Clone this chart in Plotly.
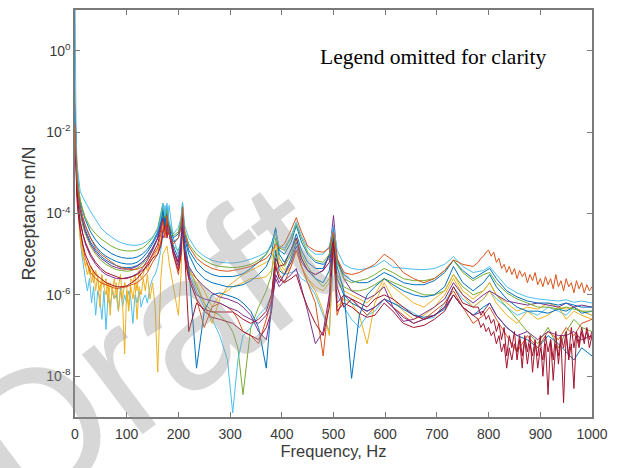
import plotly.graph_objects as go

# Shared frequency grid (Hz)
freq = [0, 2, 4, 7, 10, 15, 20, 30, 40, 50,
        60, 70, 80, 90, 100, 110, 120, 130, 140, 150,
        160, 166, 170, 174, 178, 182, 190, 200, 205, 208,
        212, 220, 235, 250, 265, 280, 295, 305, 315, 325,
        340, 355, 370, 380, 388, 395, 405, 418, 428, 438,
        450, 465, 480, 492, 500, 507, 520, 535, 550, 565,
        580, 598, 615, 635, 655, 675, 695, 715, 732, 750,
        770, 790, 802, 815, 835, 855, 875, 895, 915, 935,
        950, 965, 980, 1000]

# Dense low-frequency grid for noisy heads (Hz)
freq_low = [0, 2, 4, 6, 8, 10, 13, 16, 20, 24,
            28, 32, 36, 40, 44, 48, 52, 56, 60, 64,
            68, 72, 76, 80, 84, 88, 92, 96, 100, 104,
            108, 112, 116, 120, 124, 128, 132, 136, 140, 145,
            150, 155, 160]

# Dense high-frequency grid for the noisy tails (Hz)
freq_tail = [780, 785, 790, 795, 800, 805, 810, 815, 820, 825,
             830, 835, 840, 845, 850, 855, 860, 865, 870, 875,
             880, 885, 890, 895, 900, 905, 910, 915, 920, 925,
             930, 935, 940, 945, 950, 955, 960, 965, 970, 975,
             980, 985, 990, 995, 1000]

# Receptance values, stored as log10(m/N)
lightblue_top = [1.5, -2.0, -2.8, -3.2, -3.45, -3.6, -3.72, -3.95, -4.15, -4.35,
                 -4.48, -4.58, -4.66, -4.72, -4.76, -4.78, -4.78, -4.75, -4.68, -4.58,
                 -4.4, -4.1, -3.75, -4.05, -3.75, -4.2, -4.5, -4.35, -4.1, -3.72,
                 -4.3, -4.6, -4.9, -5.05, -5.15, -5.2, -5.22, -5.22, -5.2, -5.18,
                 -5.12, -5.05, -4.95, -4.8, -4.45, -4.8, -4.85, -4.55, -4.2, -4.55,
                 -4.85, -5.0, -5.0, -4.8, -4.3, -4.9, -5.25, -5.35, -5.38, -5.35,
                 -5.3, -5.15, -5.32, -5.35, -5.37, -5.38, -5.35, -5.25, -5.06, -5.3,
                 -5.45, -5.4, -5.3, -5.5, -5.8, -5.95, -6.05, -6.1, -6.12, -6.15,
                 -6.12, -6.18, -6.15, -6.2]

orange_head = [-1.8, -2.6, -3.2, -3.6, -3.85, -4.1, -4.3, -4.6, -4.85, -5.0,
               -5.1, -5.2, -5.28, -5.33, -5.36, -5.38, -5.37, -5.32, -5.22, -5.05,
               -4.85, -4.5, -4.2, -4.6, -4.05, -4.5, -4.75, -4.6, -4.35, -3.85,
               -4.5, -4.8, -5.1, -5.25, -5.35, -5.4, -5.42, -5.4, -5.38, -5.35,
               -5.3, -5.2, -5.1, -4.95, -4.75, -4.85, -4.75, -4.4, -4.1, -4.45,
               -4.8, -4.92, -4.95, -4.85, -4.45, -5.1, -5.45, -5.5, -5.45, -5.35,
               -5.25, -5.0, -5.15, -5.45, -5.6, -5.7, -5.6, -5.4, -5.14, -5.25,
               -5.3]
orange_tail = [-5.2, -5.1, -5.05, -4.95, -4.9, -5.05, -4.95, -5.2, -5.1, -5.35,
               -5.25, -5.45, -5.3, -5.5, -5.35, -5.6, -5.4, -5.55, -5.45, -5.7,
               -5.5, -5.65, -5.45, -5.75, -5.6, -5.8, -5.55, -5.75, -5.6, -5.85,
               -5.5, -5.8, -5.65, -5.9, -5.6, -5.8, -5.7, -5.95, -5.65, -5.85,
               -5.7, -5.95, -5.75, -5.9, -5.8]

yellow_low = [-1.5, -2.7, -3.3, -3.8, -4.2, -4.5, -4.8, -5.0, -5.2, -5.5,
              -5.3, -5.7, -5.4, -5.9, -5.5, -6.3, -5.6, -5.8, -6.0, -5.7,
              -6.5, -5.8, -6.1, -5.7, -6.4, -5.9, -6.2, -7.45, -5.9, -6.3,
              -5.8, -6.1, -5.7, -6.6, -5.8, -6.0, -5.6, -5.9, -5.5, -6.1,
              -5.7, -6.3, -7.9]
yellow_noisy = [-1.5, -2.7, -3.4, -3.9, -4.3, -4.8, -5.2, -5.6, -5.9, -5.8,
                -5.7, -6.2, -5.8, -6.6, -7.4, -6.0, -6.3, -5.7, -5.5, -5.9,
                -7.9, -5.6, -5.0, -4.9, -4.8, -5.2, -5.8, -6.5, -5.5, -4.3,
                -5.0, -5.4, -5.7, -6.2, -6.7, -6.1, -5.8, -5.7, -5.6, -5.5,
                -5.4, -5.3, -5.2, -5.1, -4.8, -5.2, -5.4, -5.2, -4.9, -5.3,
                -5.6, -5.9, -6.4, -7.0, -4.6, -6.3, -6.1, -6.2, -6.5, -7.2,
                -6.2, -5.7, -6.1, -6.4, -6.6, -6.5, -6.3, -6.0, -5.6, -6.0,
                -6.3, -6.1, -5.9, -6.2, -6.5, -6.7, -6.4, -6.6, -6.5, -6.3,
                -6.6, -6.4, -6.5, -6.6]

lightblue_low = [-1.2, -2.9, -3.5, -3.9, -4.3, -4.6, -5.0, -5.3, -5.6, -5.9,
                 -5.6, -6.2, -5.8, -6.5, -5.9, -6.1, -6.6, -5.9, -6.85, -6.0,
                 -6.3, -5.9, -6.1, -6.0, -6.4, -5.8, -6.3, -6.0, -6.2, -5.9,
                 -6.1, -6.7, -6.0, -6.2, -5.9, -6.3, -6.1, -6.0, -6.2, -5.8,
                 -5.6, -5.5, -5.3]
lightblue_dip = [-1.2, -2.9, -3.6, -4.1, -4.5, -5.0, -5.4, -5.8, -6.2, -6.4,
                 -6.85, -6.0, -6.3, -6.0, -6.2, -6.7, -5.9, -6.1, -6.2, -5.6,
                 -5.3, -4.9, -4.5, -3.8, -4.3, -3.8, -4.6, -5.0, -4.6, -3.9,
                 -4.8, -5.4, -5.9, -6.3, -6.6, -7.0, -7.6, -8.9, -7.6, -7.0,
                 -6.8, -6.5, -6.3, -6.0, -5.3, -5.6, -5.5, -5.45, -5.4, -5.6,
                 -5.7, -6.0, -6.5, -6.9, -5.0, -6.0, -6.3, -6.6, -6.8, -6.5,
                 -6.4, -6.1, -6.2, -6.3, -6.45, -6.6, -6.55, -6.2, -5.8, -6.1,
                 -6.3, -6.1, -5.9, -6.1, -6.3, -6.5, -6.4, -6.5, -6.3, -6.4,
                 -6.5, -6.3, -6.4, -6.5]

green_dip = [-2.0, -2.8, -3.3, -3.7, -4.0, -4.3, -4.5, -4.8, -5.0, -5.15,
             -5.25, -5.32, -5.38, -5.4, -5.42, -5.4, -5.35, -5.25, -5.1, -4.9,
             -4.6, -4.3, -4.0, -4.3, -4.1, -4.5, -4.8, -4.9, -4.7, -4.1,
             -4.8, -5.3, -5.8, -6.2, -6.4, -6.5, -6.7, -6.9, -7.3, -8.45,
             -6.8, -6.3, -5.9, -5.5, -4.6, -5.1, -5.3, -5.0, -4.6, -5.0,
             -5.3, -5.6, -5.8, -5.6, -4.5, -5.5, -5.8, -5.9, -5.9, -5.85,
             -5.75, -5.6, -5.7, -5.8, -5.9, -6.0, -6.0, -5.9, -5.5, -5.8,
             -6.0, -5.9, -5.7, -6.0, -6.3, -6.6, -6.9, -7.2, -6.8, -7.3,
             -6.9, -6.6, -6.8, -6.9]

blue_dip = [-1.6, -2.5, -3.1, -3.5, -3.8, -4.1, -4.3, -4.6, -4.8, -4.95,
            -5.05, -5.12, -5.18, -5.22, -5.24, -5.24, -5.2, -5.1, -4.95, -4.75,
            -4.5, -4.2, -3.9, -4.3, -3.95, -4.4, -4.7, -4.6, -4.3, -3.9,
            -4.6, -5.0, -5.4, -5.6, -5.7, -5.75, -5.8, -5.8, -5.78, -5.75,
            -5.65, -5.5, -5.3, -5.0, -4.35, -5.0, -5.2, -4.9, -4.5, -4.9,
            -5.2, -5.35, -5.35, -5.0, -4.4, -5.3, -5.9, -8.05, -6.5, -6.0,
            -5.8, -5.6, -5.75, -5.9, -6.0, -6.05, -6.0, -5.8, -5.3, -5.7,
            -5.9, -5.7, -5.5, -5.8, -6.1, -6.3, -6.4, -6.4, -6.45, -6.35,
            -6.4, -6.3, -6.45, -6.4]

darkred_head = [-1.9, -2.9, -3.5, -3.9, -4.2, -4.5, -4.7, -5.0, -5.2, -5.35,
                -5.45, -5.5, -5.55, -5.6, -5.6, -5.55, -5.5, -5.4, -5.3, -5.1,
                -5.0, -4.8, -4.5, -4.2, -4.6, -4.3, -4.9, -5.2, -4.8, -4.1,
                -4.9, -6.9, -6.2, -6.35, -6.42, -6.42, -6.41, -6.42, -6.5, -6.6,
                -6.7, -6.6, -6.4, -6.0, -5.1, -5.3, -5.25, -4.9, -4.6, -5.1,
                -5.4, -5.5, -5.4, -5.2, -4.6, -5.8, -6.3, -6.1, -6.2, -6.3,
                -6.1, -6.0, -6.1, -6.3, -6.5, -6.6, -6.5, -6.3, -5.8, -6.2,
                -6.3]
darkred_tail = [-6.3, -6.5, -6.4, -6.6, -6.5, -6.7, -6.6, -6.9, -6.7, -7.1,
                -6.8, -7.5, -7.0, -7.3, -6.9, -7.6, -7.1, -7.8, -7.0, -7.4,
                -7.0, -7.9, -7.2, -7.5, -7.0, -8.0, -7.2, -8.45, -7.1, -7.6,
                -6.9, -7.7, -7.1, -8.65, -7.0, -7.5, -6.8, -7.3, -6.9, -7.2,
                -6.8, -7.1, -6.9, -7.3, -7.0]

purple_peak = [-1.7, -2.6, -3.2, -3.6, -3.9, -4.2, -4.45, -4.75, -4.95, -5.1,
               -5.2, -5.28, -5.33, -5.36, -5.37, -5.35, -5.3, -5.2, -5.05, -4.85,
               -4.6, -4.3, -4.6, -4.5, -4.35, -4.5, -4.9, -5.3, -4.9, -4.2,
               -4.9, -5.3, -5.6, -5.8, -5.95, -6.05, -6.1, -6.15, -6.2, -6.3,
               -6.5, -6.9, -7.1, -6.4, -5.5, -5.7, -5.5, -5.2, -4.8, -5.2,
               -5.4, -5.5, -5.4, -5.0, -4.05, -5.1, -5.6, -5.9, -6.0, -6.1,
               -6.0, -5.8, -6.3, -6.65, -6.6, -6.45, -6.3, -6.1, -5.7, -6.0,
               -6.2, -6.0, -5.9, -6.0, -6.15, -6.2, -6.25, -6.2, -6.25, -6.3,
               -6.2, -6.3, -6.25, -6.3]

blue_mid = [-1.4, -2.4, -3.0, -3.4, -3.7, -3.95, -4.15, -4.45, -4.65, -4.8,
            -4.9, -4.98, -5.04, -5.08, -5.1, -5.1, -5.07, -5.0, -4.88, -4.7,
            -4.45, -4.1, -3.8, -4.2, -3.85, -4.3, -4.6, -4.5, -4.2, -3.8,
            -4.5, -4.9, -5.2, -5.4, -5.5, -5.55, -5.55, -5.55, -5.52, -5.48,
            -5.35, -5.2, -5.0, -4.75, -4.38, -4.9, -5.0, -4.7, -4.3, -4.7,
            -5.0, -5.2, -5.25, -5.1, -4.5, -5.2, -5.5, -5.65, -5.7, -5.7,
            -5.6, -5.45, -5.55, -5.7, -5.75, -5.75, -5.65, -5.45, -5.15, -5.4,
            -5.6, -5.45, -5.35, -5.6, -5.9, -6.05, -6.15, -6.2, -6.2, -6.25,
            -6.2, -6.25, -6.3, -6.3]

orange_low = [-1.3, -2.7, -3.5, -4.0, -4.4, -4.8, -5.1, -5.45, -5.6, -5.7,
              -5.75, -5.8, -5.85, -5.82, -5.8, -5.75, -5.7, -5.6, -5.45, -5.2,
              -5.0, -4.7, -4.4, -4.1, -4.5, -4.3, -5.0, -5.5, -5.0, -4.3,
              -5.1, -5.6, -6.1, -6.8, -6.3, -6.2, -6.3, -6.4, -6.6, -6.9,
              -7.0, -7.2, -6.6, -6.1, -5.2, -5.5, -5.7, -5.3, -4.9, -5.3,
              -5.7, -6.2, -7.5, -6.0, -4.8, -6.5, -6.0, -6.1, -6.3, -6.5,
              -6.3, -6.1, -6.3, -6.5, -6.7, -6.6, -6.4, -6.2, -5.9, -6.3,
              -6.7, -6.5, -6.3, -6.6, -7.0, -7.4, -7.0, -7.3, -6.9, -7.1,
              -6.8, -7.0, -6.7, -6.6]

purple_dip = [-2.2, -3.0, -3.5, -3.9, -4.2, -4.5, -4.75, -5.05, -5.25, -5.4,
              -5.5, -5.55, -5.6, -5.6, -5.58, -5.55, -5.48, -5.35, -5.15, -4.9,
              -4.6, -4.3, -4.1, -4.4, -4.2, -4.5, -4.9, -5.2, -4.8, -4.2,
              -4.9, -5.5, -6.0, -6.1, -6.15, -6.2, -6.3, -6.35, -6.4, -6.5,
              -6.6, -6.7, -6.5, -6.2, -5.6, -5.8, -5.65, -5.5, -5.35, -5.8,
              -6.4, -7.2, -6.9, -6.0, -4.3, -6.2, -6.0, -6.1, -6.3, -6.4,
              -6.3, -6.1, -6.3, -6.55, -6.7, -6.6, -6.5, -6.3, -6.0, -6.3,
              -6.5, -6.4, -6.2, -6.5, -6.8, -7.0, -6.9, -7.1, -6.9, -7.0,
              -7.0, -6.9, -7.1, -7.0]

green_mid = [-1.9, -2.5, -3.0, -3.4, -3.65, -3.9, -4.1, -4.35, -4.5, -4.62,
             -4.72, -4.8, -4.86, -4.9, -4.92, -4.92, -4.9, -4.85, -4.75, -4.6,
             -4.35, -4.0, -3.75, -4.1, -3.9, -4.25, -4.55, -4.45, -4.2, -3.75,
             -4.4, -4.75, -5.0, -5.15, -5.25, -5.3, -5.32, -5.33, -5.32, -5.3,
             -5.25, -5.15, -5.0, -4.8, -4.5, -4.85, -4.9, -4.6, -4.25, -4.6,
             -4.95, -5.15, -5.2, -5.0, -4.45, -5.2, -5.6, -5.7, -5.65, -5.6,
             -5.5, -5.35, -5.45, -5.6, -5.65, -5.65, -5.6, -5.4, -5.15, -5.45,
             -5.65, -5.5, -5.45, -5.7, -5.95, -6.1, -6.2, -6.3, -6.3, -6.35,
             -6.3, -6.35, -6.4, -6.4]

yellowmid_low = [-1.0, -2.8, -3.4, -3.9, -4.3, -4.6, -4.9, -5.1, -5.3, -5.2,
                 -5.5, -5.3, -5.7, -5.4, -5.6, -5.9, -5.5, -5.8, -5.6, -6.2,
                 -5.7, -5.9, -5.6, -6.0, -5.8, -5.5, -6.1, -5.7, -5.8, -6.4,
                 -5.6, -5.7, -5.5, -5.9, -5.4, -5.6, -5.5, -5.3, -5.4, -5.2,
                 -5.1, -5.0, -4.9]
yellow_mid = [-1.0, -2.8, -3.6, -4.2, -4.6, -5.0, -5.3, -5.5, -5.7, -6.1,
              -5.6, -6.4, -5.8, -6.0, -5.7, -6.5, -5.6, -5.4, -5.3, -5.1,
              -4.9, -4.7, -4.4, -4.1, -4.4, -4.3, -4.9, -5.3, -5.0, -4.3,
              -5.0, -5.4, -5.6, -5.9, -6.3, -6.0, -5.9, -5.8, -5.75, -5.7,
              -5.6, -5.6, -5.55, -5.4, -5.0, -5.3, -5.5, -5.3, -4.9, -5.3,
              -5.6, -5.8, -5.9, -5.7, -4.9, -5.6, -5.9, -6.0, -6.1, -6.2,
              -6.0, -5.6, -5.8, -6.0, -6.2, -6.3, -6.1, -5.9, -5.5, -5.9,
              -6.1, -5.9, -5.7, -6.0, -6.2, -6.4, -6.3, -6.35, -6.2, -6.3,
              -6.35, -6.3, -6.4, -6.5]

crimson_head = [-2.1, -3.1, -3.7, -4.1, -4.4, -4.75, -5.0, -5.3, -5.5, -5.6,
                -5.7, -5.75, -5.8, -5.8, -5.78, -5.7, -5.6, -5.45, -5.25, -5.0,
                -4.75, -4.4, -4.15, -4.45, -4.25, -4.5, -5.0, -5.4, -5.0, -4.3,
                -5.0, -5.6, -6.1, -6.4, -6.55, -6.6, -6.65, -6.7, -6.8, -6.9,
                -7.0, -7.1, -6.8, -6.4, -5.3, -5.6, -5.7, -5.6, -5.5, -5.9,
                -6.3, -6.7, -7.0, -6.3, -4.7, -6.4, -6.2, -6.3, -6.45, -6.55,
                -6.5, -6.2, -6.4, -6.7, -6.8, -6.75, -6.6, -6.4, -6.0, -6.3,
                -6.5]
crimson_tail = [-6.6, -6.8, -6.7, -6.9, -6.8, -7.0, -6.9, -7.2, -7.0, -7.4,
                -7.2, -7.8, -7.3, -7.6, -7.2, -7.4, -7.0, -7.5, -7.1, -7.7,
                -7.2, -7.5, -7.1, -7.8, -7.3, -7.6, -7.0, -7.4, -7.1, -8.1,
                -7.2, -7.5, -7.0, -7.3, -6.9, -7.6, -7.2, -8.3, -7.0, -7.3,
                -6.9, -7.2, -6.8, -7.1, -6.9]

blue_low = [-1.5, -2.6, -3.2, -3.6, -3.9, -4.2, -4.4, -4.7, -4.9, -5.05,
            -5.15, -5.22, -5.28, -5.32, -5.33, -5.32, -5.28, -5.2, -5.05, -4.85,
            -4.6, -4.25, -3.95, -4.3, -4.0, -4.4, -4.8, -5.1, -4.7, -4.0,
            -4.7, -5.3, -7.8, -6.4, -6.0, -5.95, -6.0, -6.05, -6.1, -6.2,
            -6.4, -6.8, -7.8, -6.3, -4.9, -5.4, -5.5, -5.1, -4.7, -5.1,
            -5.4, -5.6, -5.7, -5.4, -4.6, -5.6, -6.0, -6.2, -6.3, -6.4,
            -6.3, -6.1, -6.2, -6.35, -6.5, -6.55, -6.5, -6.35, -6.0, -6.3,
            -6.5, -6.3, -6.2, -6.5, -6.8, -7.0, -7.1, -7.3, -7.0, -7.2,
            -7.4, -7.6, -7.3, -7.5]

# MATLAB default line colours
BLUE, ORANGE, YELLOW, PURPLE = "#0072BD", "#D95319", "#EDB120", "#7E2F8E"
GREEN, LIGHTBLUE, DARKRED = "#77AC30", "#4DBEEE", "#A2142F"

n_head = len(orange_head)      # shared-grid points up to 770 Hz
n_low = 21                     # shared-grid points up to 160 Hz (replaced by dense heads)
series = [
    (freq, green_dip, GREEN),
    (freq_low + freq[n_low:], lightblue_low + lightblue_dip[n_low:], LIGHTBLUE),
    (freq_low + freq[n_low:], yellow_low + yellow_noisy[n_low:], YELLOW),
    (freq_low + freq[n_low:], yellowmid_low + yellow_mid[n_low:], YELLOW),
    (freq, blue_low, BLUE),
    (freq, orange_low, ORANGE),
    (freq, purple_dip, PURPLE),
    (freq[:n_head] + freq_tail, crimson_head + crimson_tail, DARKRED),
    (freq[:n_head] + freq_tail, darkred_head + darkred_tail, DARKRED),
    (freq, blue_dip, BLUE),
    (freq, purple_peak, PURPLE),
    (freq, blue_mid, BLUE),
    (freq, green_mid, GREEN),
    (freq, lightblue_top, LIGHTBLUE),
    (freq[:n_head] + freq_tail, orange_head + orange_tail, ORANGE),
]

fig = go.Figure()
for fx, lv, col in series:
    fig.add_trace(go.Scatter(x=fx, y=[10 ** v for v in lv], mode="lines",
                             line=dict(color=col, width=1), showlegend=False,
                             hoverinfo="skip"))

axis_col = "#7a7a7a"
tick_font = dict(family="Liberation Sans, Arial, sans-serif", size=14, color="#3a3a3a")

x_ticks = [0, 100, 200, 300, 400, 500, 600, 700, 800, 900, 1000]
y_ticks = [1, 1e-2, 1e-4, 1e-6, 1e-8]
y_labels = ["10<sup>0</sup>", "10<sup>-2</sup>", "10<sup>-4</sup>", "10<sup>-6</sup>", "10<sup>-8</sup>"]

fig.update_layout(
    width=619, height=468,
    margin=dict(l=75, r=27, t=8, b=51),
    paper_bgcolor="white", plot_bgcolor="white",
    xaxis=dict(range=[0, 1000], tickvals=x_ticks, ticks="inside", ticklen=5,
               tickcolor=axis_col, showline=True, linecolor=axis_col, linewidth=1.5,
               mirror="ticks", showgrid=False, zeroline=False, tickfont=tick_font,
               ticklabelstandoff=3,
               title=dict(text="Frequency, Hz", standoff=4,
                          font=dict(family="Liberation Sans, Arial, sans-serif", size=16.5, color="#3a3a3a"))),
    yaxis=dict(type="log", range=[-9, 1], tickvals=y_ticks, ticktext=y_labels,
               ticks="inside", ticklen=5, tickcolor=axis_col, showline=True,
               linecolor=axis_col, linewidth=1.5, mirror="ticks", showgrid=False,
               zeroline=False, tickfont=tick_font,
               title=dict(text="Receptance m/N", standoff=6,
                          font=dict(family="Liberation Sans, Arial, sans-serif", size=18, color="#3a3a3a"))),
    annotations=[
        dict(text="Legend omitted for clarity", xref="paper", yref="paper",
             x=0.693, y=0.885, xanchor="center", yanchor="middle", showarrow=False,
             font=dict(family="Liberation Serif, Times New Roman, serif", size=21.5, color="black")),
        dict(text="Draft", xref="paper", yref="paper", x=0.14, y=0.17,
             xanchor="center", yanchor="middle", showarrow=False, textangle=-37,
             font=dict(family="Liberation Sans, Arial, sans-serif", size=190,
                       color="rgba(150,150,150,0.38)")),
    ],
)

fig.write_html("out.html")
